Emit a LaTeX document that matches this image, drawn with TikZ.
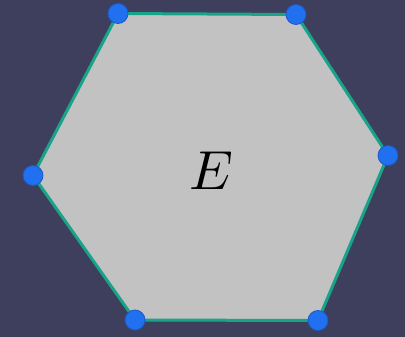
\documentclass[tikz,border=0pt]{standalone}
\definecolor{bg}{RGB}{61,63,92}
\definecolor{hexfill}{RGB}{194,194,194}
\definecolor{edgec}{RGB}{24,164,136}
\definecolor{dotc}{RGB}{32,112,240}
\definecolor{dotline}{RGB}{26,90,200}
\begin{document}
\begin{tikzpicture}[x=1pt,y=-1pt,
  vdot/.style={circle,fill=dotc,draw=dotline,line width=0.8pt,minimum size=20pt,inner sep=0pt}]
\fill[bg] (0,0) rectangle (405,337);
\useasboundingbox (0,0) rectangle (405,337);
\coordinate (v1) at (118,13.5);
\coordinate (v2) at (296,14.5);
\coordinate (v3) at (388,155.5);
\coordinate (v4) at (318,320.5);
\coordinate (v5) at (135,320);
\coordinate (v6) at (33,175.5);
\filldraw[fill=hexfill,draw=edgec,line width=3pt,line join=round] (v1) -- (v2) -- (v3) -- (v4) -- (v5) -- (v6) -- cycle;
\node[scale=5.5] (lab) at (211,171) {$E$};
\foreach \i in {1,...,6} \node[vdot] (d\i) at (v\i) {};
\end{tikzpicture}
\end{document}
